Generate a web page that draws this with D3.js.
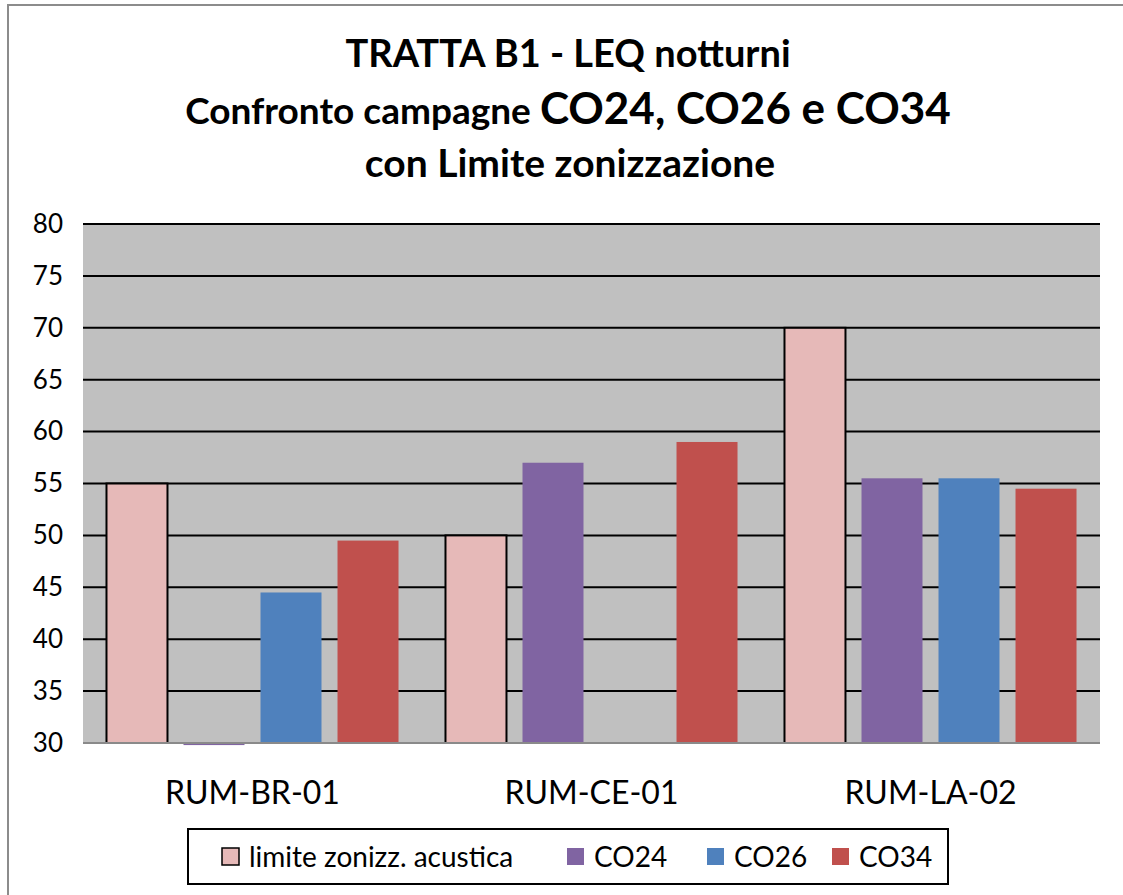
<!DOCTYPE html>
<html>
<head>
<meta charset="utf-8">
<script src="https://cdn.jsdelivr.net/npm/d3@7"></script>
<style>
body { margin: 0; background: #fff; }
text { font-family: Lato, "Noto Sans", sans-serif; fill: #000; }
</style>
</head>
<body>
<div id="vis"></div>
<script>
const categories = ["RUM-BR-01", "RUM-CE-01", "RUM-LA-02"];
const seriesNames = ["limite zonizz. acustica", "CO24", "CO26", "CO34"];
const limite = [55, 50, 70];
const co24 = [29.8, 57, 55.5];
const co26 = [44.5, null, 55.5];
const co34 = [49.5, 59, 54.5];
const yTicks = [30, 35, 40, 45, 50, 55, 60, 65, 70, 75, 80];
const colors = ["#E6B9B8", "#8064A2", "#4F81BD", "#C0504D"];

const W = 1123, H = 895;
const margin = { top: 224, right: 23, bottom: 152, left: 83 };
const width = W - margin.left - margin.right;
const height = H - margin.top - margin.bottom;

const allSeries = [limite, co24, co26, co34];
const data = categories.map((c, i) => ({
    cat: c,
    vals: seriesNames.map((s, j) => ({ series: s, idx: j, value: allSeries[j][i] }))
}));

const root = d3.select("#vis").append("svg")
    .attr("width", W)
    .attr("height", H);

// chart border
root.append("rect")
    .attr("x", 8).attr("y", 5)
    .attr("width", W).attr("height", H)
    .attr("fill", "none")
    .attr("stroke", "#8c8c8c")
    .attr("stroke-width", 2);

// title
const title = root.append("g").attr("text-anchor", "middle").style("font-weight", "bold");
title.append("text").attr("x", 568).attr("y", 67).style("font-size", "38px")
    .text("TRATTA B1 - LEQ notturni");
const t2 = title.append("text").attr("x", 568).attr("y", 124);
t2.append("tspan").style("font-size", "37px").text("Confronto campagne ");
t2.append("tspan").style("font-size", "44px").text("CO24, CO26 e CO34");
title.append("text").attr("x", 570).attr("y", 177).style("font-size", "39px")
    .text("con Limite zonizzazione");

const svg = root.append("g")
    .attr("transform", `translate(${margin.left},${margin.top})`);

const x0 = d3.scaleBand().domain(categories).range([0, width]).padding(0);
const x1 = d3.scaleBand().domain(seriesNames).range([0, x0.bandwidth()])
    .paddingInner(0.208).paddingOuter(0.305);
const yScale = d3.scaleLinear().domain([30, 80]).range([height, 0]);

svg.append("rect")
    .attr("width", width).attr("height", height)
    .attr("fill", "#C0C0C0");

// gridlines
svg.append("g")
    .selectAll("line")
    .data(yTicks.filter(d => d > 30))
    .enter()
    .append("line")
    .attr("x1", 0).attr("x2", width)
    .attr("y1", d => yScale(d)).attr("y2", d => yScale(d))
    .attr("stroke", "#000")
    .attr("stroke-width", 2);

// y axis labels
const yAxis = d3.axisLeft(yScale).tickValues(yTicks).tickSize(0).tickPadding(20);
svg.append("g")
    .attr("class", "axis")
    .call(yAxis)
    .call(g => g.select(".domain").remove())
    .selectAll("text")
    .style("font-size", "26px")
    .style("font-family", "Lato, sans-serif");

// bars
const groups = svg.selectAll(".grp")
    .data(data)
    .enter()
    .append("g")
    .attr("class", "grp")
    .attr("transform", d => `translate(${x0(d.cat)},0)`);

groups.selectAll("rect")
    .data(d => d.vals.filter(v => v.value != null))
    .enter()
    .append("rect")
    .attr("x", d => x1(d.series))
    .attr("width", x1.bandwidth())
    .attr("y", d => Math.min(yScale(d.value), yScale(30)))
    .attr("height", d => Math.abs(yScale(30) - yScale(d.value)))
    .attr("fill", d => colors[d.idx])
    .attr("stroke", d => d.idx === 0 ? "#000" : "none")
    .attr("stroke-width", 2);

// baseline
svg.append("line")
    .attr("x1", 0).attr("x2", width)
    .attr("y1", yScale(30)).attr("y2", yScale(30))
    .attr("stroke", "#8a8a8a")
    .attr("stroke-width", 2);

// x axis labels
const xAxis = d3.axisBottom(x0).tickSize(0).tickPadding(38);
svg.append("g")
    .attr("class", "axis")
    .attr("transform", `translate(0,${height})`)
    .call(xAxis)
    .call(g => g.select(".domain").remove())
    .selectAll("text")
    .style("font-size", "32px")
    .style("font-family", "Lato, sans-serif");

// legend
const legend = root.append("g").attr("transform", "translate(188,829)");
legend.append("rect")
    .attr("width", 760).attr("height", 55)
    .attr("fill", "#fff")
    .attr("stroke", "#000")
    .attr("stroke-width", 2);

const legendX = [34, 379, 519, 644];
const items = legend.selectAll(".legend")
    .data(seriesNames)
    .enter()
    .append("g")
    .attr("class", "legend")
    .attr("transform", (d, i) => `translate(${legendX[i]},0)`);

items.append("rect")
    .attr("y", 19).attr("width", 17).attr("height", 17)
    .attr("fill", (d, i) => colors[i])
    .attr("stroke", (d, i) => i === 0 ? "#000" : "none")
    .attr("stroke-width", 1.5);

items.append("text")
    .attr("x", 27).attr("y", 38)
    .style("font-size", "28px")
    .text(d => d);
</script>
</body>
</html>
